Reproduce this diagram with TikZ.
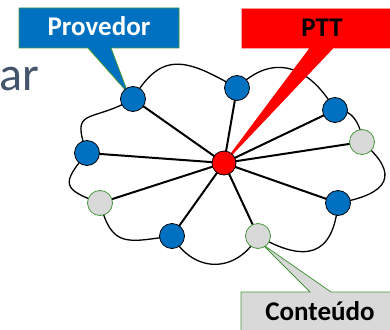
\documentclass[tikz,border=0pt]{standalone}
\usepackage{fontspec}
\setmainfont{Carlito}
\definecolor{myblue}{RGB}{0,112,192}
\definecolor{mygreen}{RGB}{70,150,60}
\definecolor{mygray}{RGB}{217,217,217}
\definecolor{titlecol}{RGB}{68,84,106}
\pgfdeclarelayer{bg}
\pgfdeclarelayer{mid}
\pgfsetlayers{bg,mid,main}
\begin{document}
\begin{tikzpicture}[x=1pt,y=1pt,
  cl/.style={line width=1.3pt},
  spoke/.style={line width=2pt},
  bnode/.style={circle,draw=black,line width=0.8pt,fill=myblue,minimum size=25pt,inner sep=0pt},
  gnode/.style={circle,draw=mygreen,line width=0.8pt,fill=mygray,minimum size=25pt,inner sep=0pt},
  rnode/.style={circle,draw=black,line width=0.8pt,fill=red,minimum size=24pt,inner sep=0pt},
  lbl/.style={font=\fontsize{27}{32}\selectfont\bfseries,anchor=base,inner sep=0pt},
  callout/.style={line width=0.8pt,line join=miter}
]
\useasboundingbox (0,0) rectangle (390,-329);
\clip (0,0) rectangle (390,-329);

% partial title text
\node[anchor=base west,inner sep=0pt,text=titlecol,font=\fontsize{48}{56}\selectfont] (title) at (-1,-90) {ar};

% nodes
\node[rnode] (C) at (224,-163) {};
\node[bnode] (P) at (133,-99) {};
\node[bnode] (T) at (237,-88) {};
\node[bnode] (R1) at (335,-110) {};
\node[gnode] (G1) at (362,-142) {};
\node[bnode] (R2) at (338,-203) {};
\node[gnode] (G2) at (258,-236) {};
\node[bnode] (B) at (172,-236) {};
\node[gnode] (G3) at (100,-203) {};
\node[bnode] (L) at (87,-153) {};

\begin{pgfonlayer}{bg}
  % cloud outline
  \draw[cl] (L.center) to[out=110,in=210,looseness=1.8] (P.center)
    to[out=60,in=150,looseness=1.4] (T.center)
    to[out=45,in=120,looseness=1.3] (R1.center)
    to[out=10,in=90,looseness=1] (G1.center)
    to[out=-40,in=10,looseness=2] (R2.center)
    to[out=-95,in=-30,looseness=1.6] (G2.center)
    to[out=-120,in=-60,looseness=1.3] (B.center)
    to[out=188,in=-75,looseness=1.5] (G3.center)
    to[out=160,in=230,looseness=2] (L.center);
  % spokes
  \foreach \n in {P,T,R1,G1,R2,G2,B,G3,L}
    \draw[spoke] (C.center) -- (\n.center);
\end{pgfonlayer}

\begin{pgfonlayer}{mid}
  % Provedor callout
  \coordinate (pt) at (128,-93);
  \draw[callout,fill=myblue,draw=mygreen] (19,-8) -- (179,-8) -- (179,-48) -- (111,-48) -- (pt) -- (88,-48) -- (19,-48) -- cycle;
  \node[lbl,text=white] (prov) at (99,-36) {Provedor};
  % PTT callout
  \draw[callout,fill=red,draw=red] (242,-9) -- (402,-9) -- (402,-48) -- (333,-48) -- (C.center) -- (310,-48) -- (242,-48) -- cycle;
  \node[lbl,text=black] (ptt) at (322,-37) {PTT};
  % Conteudo callout
  \coordinate (ct) at (262,-244);
  \draw[callout,fill=mygray,draw=mygreen] (241,-292) -- (310,-292) -- (ct) -- (331,-292) -- (402,-292) -- (402,-340) -- (241,-340) -- cycle;
  \node[lbl,text=black] (cont) at (320,-320) {Conteúdo};
\end{pgfonlayer}
\end{tikzpicture}
\end{document}
